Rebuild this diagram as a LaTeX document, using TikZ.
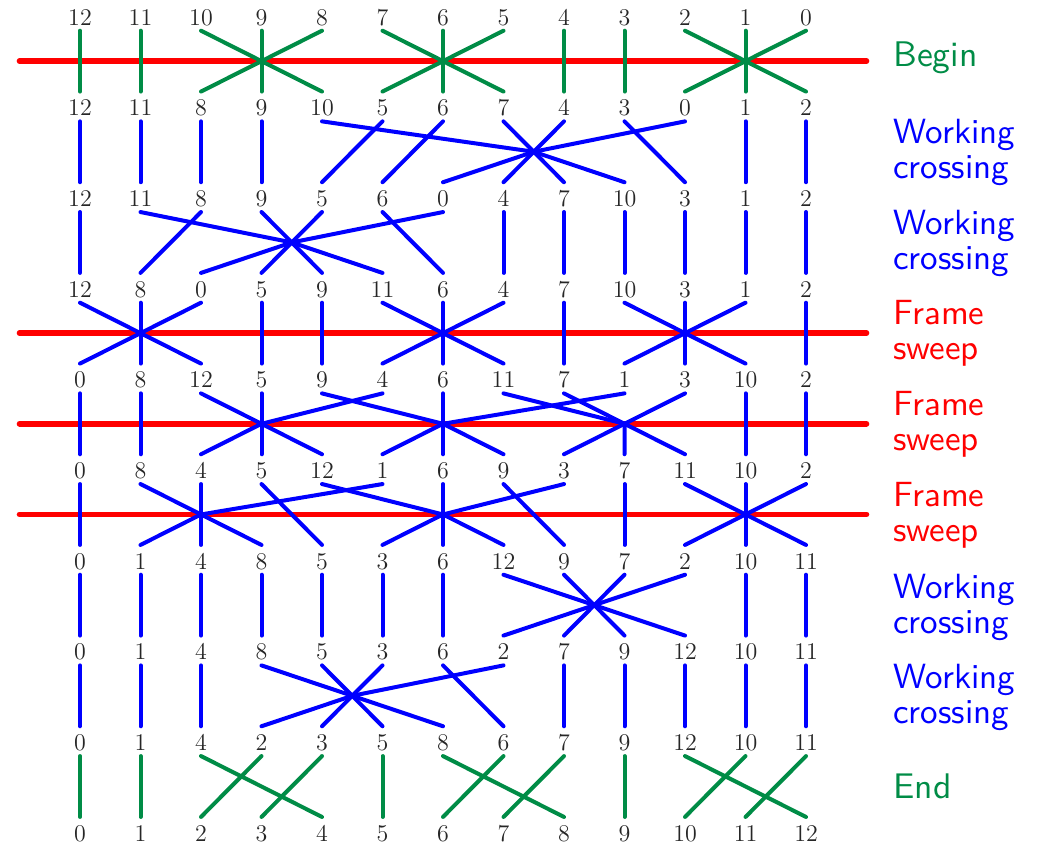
\documentclass[tikz,border=0pt]{standalone}
\usepackage{tikz}
\definecolor{wgreen}{RGB}{0,140,70}
\definecolor{wblue}{RGB}{0,0,255}
\definecolor{wred}{RGB}{255,0,0}
% one-line and two-line stage captions
\newcommand\stagetext[1]{\scalebox{1.78}{\sffamily\fontsize{10}{12}\selectfont #1}}
\newcommand\stagetwo[2]{\scalebox{1.75}{\sffamily\fontsize{10}{12}\selectfont
  \vtop{\baselineskip=10pt\lineskiplimit=-100pt\hbox{#1}\hbox{#2}}}}
\tikzset{
  num/.style={anchor=base, inner sep=0pt, text height=12pt, text depth=2.5pt,
    font=\fontsize{12}{14}\selectfont, text=black!85},
  wire/.style={line width=2pt, line cap=round, line join=round},
  gwire/.style={wire, wgreen},
  bwire/.style={wire, wblue},
  sweepline/.style={line width=2.8pt, line cap=round, wred},
  lab/.style={anchor=base west, inner sep=0pt},
}
% straight wires of one stage: #1 upper row, #2 lower row, #3 style, #4 pairs col/col
\newcommand\drawwires[4]{%
  \foreach \a/\b in {#4} {\draw[#3] (n#1-\a.south) -- (n#2-\b.north);}}
% wires through a crossing point #5
\newcommand\drawcrossing[5]{%
  \foreach \a/\b in {#4} {\draw[#3] (n#1-\a.south) -- (#5) -- (n#2-\b.north);}}
\begin{document}
\begin{tikzpicture}[x=0.5pt, y=-0.5pt]
\useasboundingbox (0,0) rectangle (1037,845);

% permutation rows
\foreach \row [count=\k from 0] in {
  {12,11,10,9,8,7,6,5,4,3,2,1,0},
  {12,11,8,9,10,5,6,7,4,3,0,1,2},
  {12,11,8,9,5,6,0,4,7,10,3,1,2},
  {12,8,0,5,9,11,6,4,7,10,3,1,2},
  {0,8,12,5,9,4,6,11,7,1,3,10,2},
  {0,8,4,5,12,1,6,9,3,7,11,10,2},
  {0,1,4,8,5,3,6,12,9,7,2,10,11},
  {0,1,4,8,5,3,6,2,7,9,12,10,11},
  {0,1,4,2,3,5,8,6,7,9,12,10,11},
  {0,1,2,3,4,5,6,7,8,9,10,11,12}} {
  \foreach \v [count=\i from 0] in \row {
    \node[num] (n\k-\i) at ({80+60.5*\i},{25.3+90.67*\k}) {\v};
  }
}

% crossing points
\coordinate (c1)  at (533.75,151.77);
\coordinate (c2)  at (291.75,242.44);
\coordinate (c4a) at (261.5,423.78);
\coordinate (c4b) at (443,423.78);
\coordinate (c4c) at (624.5,423.78);
\coordinate (c5a) at (201,514.45);
\coordinate (c5b) at (443,514.45);
\coordinate (c5c) at (745.5,514.45);
\coordinate (c6)  at (594.25,605.12);
\coordinate (c7)  at (352.25,695.79);

% sweep lines
\foreach \y [count=\j] in {61.1,333.11,423.78,514.45} {
  \coordinate (sL\j) at (19.5,\y);
  \coordinate (sR\j) at (866.5,\y);
  \draw[sweepline] (sL\j) -- (sR\j);
}

% Begin
\drawwires{0}{1}{gwire}{0/0,1/1,2/4,3/3,4/2,5/7,6/6,7/5,8/8,9/9,10/12,11/11,12/10}
% working crossing
\drawwires{1}{2}{bwire}{0/0,1/1,2/2,3/3,5/4,6/5,9/10,11/11,12/12}
\drawcrossing{1}{2}{bwire}{4/9,7/8,8/7,10/6}{c1}
% working crossing
\drawwires{2}{3}{bwire}{0/0,2/1,5/6,7/7,8/8,9/9,10/10,11/11,12/12}
\drawcrossing{2}{3}{bwire}{1/5,3/4,4/3,6/2}{c2}
% frame sweep
\drawwires{3}{4}{bwire}{0/2,1/1,2/0,3/3,4/4,5/7,6/6,7/5,8/8,9/11,10/10,11/9,12/12}
% frame sweep
\drawwires{4}{5}{bwire}{0/0,1/1,3/3,6/6,11/11,12/12}
\drawcrossing{4}{5}{bwire}{2/4,5/2}{c4a}
\drawcrossing{4}{5}{bwire}{4/7,9/5}{c4b}
\drawcrossing{4}{5}{bwire}{7/10,8/9,10/8}{c4c}
% frame sweep
\drawwires{5}{6}{bwire}{0/0,2/2,3/4,6/6,7/8,9/9,11/11}
\drawcrossing{5}{6}{bwire}{1/3,5/1}{c5a}
\drawcrossing{5}{6}{bwire}{4/7,8/5}{c5b}
\drawcrossing{5}{6}{bwire}{10/12,12/10}{c5c}
% working crossing
\drawwires{6}{7}{bwire}{0/0,1/1,2/2,3/3,4/4,5/5,6/6,11/11,12/12}
\drawcrossing{6}{7}{bwire}{7/10,8/9,9/8,10/7}{c6}
% working crossing
\drawwires{7}{8}{bwire}{0/0,1/1,2/2,6/7,8/8,9/9,10/10,11/11,12/12}
\drawcrossing{7}{8}{bwire}{3/6,4/5,5/4,7/3}{c7}
% End
\drawwires{8}{9}{gwire}{0/0,1/1,2/4,3/2,4/3,5/5,6/8,7/6,8/7,9/9,10/12,11/10,12/11}

% stage labels
\node[lab, wgreen] (t0) at (893,67)    {\stagetext{Begin}};
\node[lab, wblue]  (t1) at (893,143.5) {\stagetwo{Working}{crossing}};
\node[lab, wblue]  (t2) at (893,234.2) {\stagetwo{Working}{crossing}};
\node[lab, wred]   (t3) at (893,324.8) {\stagetwo{Frame}{sweep}};
\node[lab, wred]   (t4) at (893,415.5) {\stagetwo{Frame}{sweep}};
\node[lab, wred]   (t5) at (893,506.2) {\stagetwo{Frame}{sweep}};
\node[lab, wblue]  (t6) at (893,598.5) {\stagetwo{Working}{crossing}};
\node[lab, wblue]  (t7) at (893,688.5) {\stagetwo{Working}{crossing}};
\node[lab, wgreen] (t8) at (893,798)   {\stagetext{End}};
\end{tikzpicture}
\end{document}
